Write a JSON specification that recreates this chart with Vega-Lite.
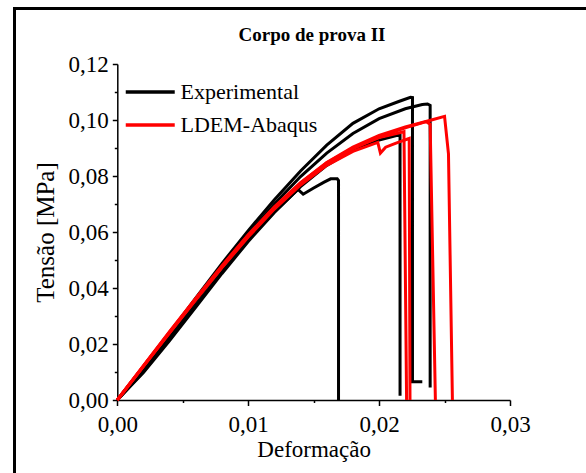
{
  "$schema": "https://vega.github.io/schema/vega-lite/v6.json",
  "autosize": {"type": "none"},
  "padding": {"left": 14, "top": 8, "right": 0, "bottom": 0},
  "width": 572,
  "height": 465,
  "background": "white",
  "config": {
    "view": {"stroke": null},
    "axis": {
      "grid": false,
      "domainColor": "black",
      "domainWidth": 1.5,
      "tickColor": "black",
      "tickWidth": 1.5,
      "labelFont": "Liberation Serif",
      "labelFontSize": 23,
      "labelColor": "black",
      "labelFlush": false,
      "labelOverlap": false,
      "labelBound": false,
      "titleFont": "Liberation Serif",
      "titleFontWeight": "normal",
      "titleColor": "black"
    }
  },
  "title": {
    "text": "Corpo de prova II",
    "font": "Liberation Serif",
    "fontSize": 19,
    "fontWeight": "bold",
    "color": "black",
    "anchor": "middle",
    "baseline": "alphabetic",
    "offset": -52,
    "dx": 12
  },
  "data": {
    "values": [
      {"s": "Experimental", "c": "E1", "i": 0, "x": 0, "y": 0},
      {"s": "Experimental", "c": "E1", "i": 1, "x": 0.002, "y": 0.0118},
      {"s": "Experimental", "c": "E1", "i": 2, "x": 0.004, "y": 0.0240},
      {"s": "Experimental", "c": "E1", "i": 3, "x": 0.006, "y": 0.0365},
      {"s": "Experimental", "c": "E1", "i": 4, "x": 0.008, "y": 0.0488},
      {"s": "Experimental", "c": "E1", "i": 5, "x": 0.010, "y": 0.0605},
      {"s": "Experimental", "c": "E1", "i": 6, "x": 0.012, "y": 0.0715},
      {"s": "Experimental", "c": "E1", "i": 7, "x": 0.014, "y": 0.0818},
      {"s": "Experimental", "c": "E1", "i": 8, "x": 0.016, "y": 0.0910},
      {"s": "Experimental", "c": "E1", "i": 9, "x": 0.018, "y": 0.0988},
      {"s": "Experimental", "c": "E1", "i": 10, "x": 0.020, "y": 0.1040},
      {"s": "Experimental", "c": "E1", "i": 11, "x": 0.0215, "y": 0.1066},
      {"s": "Experimental", "c": "E1", "i": 12, "x": 0.0224, "y": 0.1081},
      {"s": "Experimental", "c": "E1", "i": 13, "x": 0.02255, "y": 0.1080},
      {"s": "Experimental", "c": "E1", "i": 14, "x": 0.02255, "y": 0.0065},
      {"s": "Experimental", "c": "E1", "i": 15, "x": 0.0233, "y": 0.0065},

      {"s": "Experimental", "c": "E2", "i": 0, "x": 0, "y": 0},
      {"s": "Experimental", "c": "E2", "i": 1, "x": 0.002, "y": 0.0110},
      {"s": "Experimental", "c": "E2", "i": 2, "x": 0.004, "y": 0.0228},
      {"s": "Experimental", "c": "E2", "i": 3, "x": 0.006, "y": 0.0352},
      {"s": "Experimental", "c": "E2", "i": 4, "x": 0.008, "y": 0.0475},
      {"s": "Experimental", "c": "E2", "i": 5, "x": 0.010, "y": 0.0592},
      {"s": "Experimental", "c": "E2", "i": 6, "x": 0.012, "y": 0.0700},
      {"s": "Experimental", "c": "E2", "i": 7, "x": 0.014, "y": 0.0798},
      {"s": "Experimental", "c": "E2", "i": 8, "x": 0.016, "y": 0.0882},
      {"s": "Experimental", "c": "E2", "i": 9, "x": 0.018, "y": 0.0952},
      {"s": "Experimental", "c": "E2", "i": 10, "x": 0.020, "y": 0.1005},
      {"s": "Experimental", "c": "E2", "i": 11, "x": 0.022, "y": 0.1040},
      {"s": "Experimental", "c": "E2", "i": 12, "x": 0.0233, "y": 0.1055},
      {"s": "Experimental", "c": "E2", "i": 13, "x": 0.0237, "y": 0.1057},
      {"s": "Experimental", "c": "E2", "i": 14, "x": 0.0239, "y": 0.1052},
      {"s": "Experimental", "c": "E2", "i": 15, "x": 0.0239, "y": 0.0045},

      {"s": "Experimental", "c": "E3", "i": 0, "x": 0, "y": 0},
      {"s": "Experimental", "c": "E3", "i": 1, "x": 0.002, "y": 0.0098},
      {"s": "Experimental", "c": "E3", "i": 2, "x": 0.004, "y": 0.0212},
      {"s": "Experimental", "c": "E3", "i": 3, "x": 0.006, "y": 0.0332},
      {"s": "Experimental", "c": "E3", "i": 4, "x": 0.008, "y": 0.0452},
      {"s": "Experimental", "c": "E3", "i": 5, "x": 0.010, "y": 0.0566},
      {"s": "Experimental", "c": "E3", "i": 6, "x": 0.012, "y": 0.0670},
      {"s": "Experimental", "c": "E3", "i": 7, "x": 0.014, "y": 0.0762},
      {"s": "Experimental", "c": "E3", "i": 8, "x": 0.016, "y": 0.0838},
      {"s": "Experimental", "c": "E3", "i": 9, "x": 0.018, "y": 0.0893},
      {"s": "Experimental", "c": "E3", "i": 10, "x": 0.020, "y": 0.0928},
      {"s": "Experimental", "c": "E3", "i": 11, "x": 0.0214, "y": 0.0945},
      {"s": "Experimental", "c": "E3", "i": 12, "x": 0.0216, "y": 0.0945},
      {"s": "Experimental", "c": "E3", "i": 13, "x": 0.0216, "y": 0.0015},

      {"s": "Experimental", "c": "E4", "i": 0, "x": 0, "y": 0},
      {"s": "Experimental", "c": "E4", "i": 1, "x": 0.002, "y": 0.0102},
      {"s": "Experimental", "c": "E4", "i": 2, "x": 0.004, "y": 0.0218},
      {"s": "Experimental", "c": "E4", "i": 3, "x": 0.006, "y": 0.0338},
      {"s": "Experimental", "c": "E4", "i": 4, "x": 0.008, "y": 0.0458},
      {"s": "Experimental", "c": "E4", "i": 5, "x": 0.010, "y": 0.0572},
      {"s": "Experimental", "c": "E4", "i": 6, "x": 0.012, "y": 0.0672},
      {"s": "Experimental", "c": "E4", "i": 7, "x": 0.0138, "y": 0.0752},
      {"s": "Experimental", "c": "E4", "i": 8, "x": 0.0142, "y": 0.0735},
      {"s": "Experimental", "c": "E4", "i": 9, "x": 0.0150, "y": 0.0757},
      {"s": "Experimental", "c": "E4", "i": 10, "x": 0.0158, "y": 0.0778},
      {"s": "Experimental", "c": "E4", "i": 11, "x": 0.0163, "y": 0.0790},
      {"s": "Experimental", "c": "E4", "i": 12, "x": 0.0168, "y": 0.0790},
      {"s": "Experimental", "c": "E4", "i": 13, "x": 0.0169, "y": 0.0784},
      {"s": "Experimental", "c": "E4", "i": 14, "x": 0.0169, "y": 0},

      {"s": "LDEM-Abaqus", "c": "L1", "i": 0, "x": 0, "y": 0},
      {"s": "LDEM-Abaqus", "c": "L1", "i": 1, "x": 0.002, "y": 0.0122},
      {"s": "LDEM-Abaqus", "c": "L1", "i": 2, "x": 0.004, "y": 0.0243},
      {"s": "LDEM-Abaqus", "c": "L1", "i": 3, "x": 0.006, "y": 0.0362},
      {"s": "LDEM-Abaqus", "c": "L1", "i": 4, "x": 0.008, "y": 0.0478},
      {"s": "LDEM-Abaqus", "c": "L1", "i": 5, "x": 0.010, "y": 0.0588},
      {"s": "LDEM-Abaqus", "c": "L1", "i": 6, "x": 0.012, "y": 0.0688},
      {"s": "LDEM-Abaqus", "c": "L1", "i": 7, "x": 0.014, "y": 0.0775},
      {"s": "LDEM-Abaqus", "c": "L1", "i": 8, "x": 0.016, "y": 0.0848},
      {"s": "LDEM-Abaqus", "c": "L1", "i": 9, "x": 0.018, "y": 0.0903},
      {"s": "LDEM-Abaqus", "c": "L1", "i": 10, "x": 0.020, "y": 0.0945},
      {"s": "LDEM-Abaqus", "c": "L1", "i": 11, "x": 0.022, "y": 0.0975},
      {"s": "LDEM-Abaqus", "c": "L1", "i": 12, "x": 0.024, "y": 0.1000},
      {"s": "LDEM-Abaqus", "c": "L1", "i": 13, "x": 0.0250, "y": 0.1013},
      {"s": "LDEM-Abaqus", "c": "L1", "i": 14, "x": 0.0253, "y": 0.0879},
      {"s": "LDEM-Abaqus", "c": "L1", "i": 15, "x": 0.0256, "y": 0},

      {"s": "LDEM-Abaqus", "c": "L2", "i": 0, "x": 0, "y": 0},
      {"s": "LDEM-Abaqus", "c": "L2", "i": 1, "x": 0.002, "y": 0.0121},
      {"s": "LDEM-Abaqus", "c": "L2", "i": 2, "x": 0.004, "y": 0.0241},
      {"s": "LDEM-Abaqus", "c": "L2", "i": 3, "x": 0.006, "y": 0.0360},
      {"s": "LDEM-Abaqus", "c": "L2", "i": 4, "x": 0.008, "y": 0.0475},
      {"s": "LDEM-Abaqus", "c": "L2", "i": 5, "x": 0.010, "y": 0.0585},
      {"s": "LDEM-Abaqus", "c": "L2", "i": 6, "x": 0.012, "y": 0.0684},
      {"s": "LDEM-Abaqus", "c": "L2", "i": 7, "x": 0.014, "y": 0.0771},
      {"s": "LDEM-Abaqus", "c": "L2", "i": 8, "x": 0.016, "y": 0.0843},
      {"s": "LDEM-Abaqus", "c": "L2", "i": 9, "x": 0.018, "y": 0.0898},
      {"s": "LDEM-Abaqus", "c": "L2", "i": 10, "x": 0.020, "y": 0.0940},
      {"s": "LDEM-Abaqus", "c": "L2", "i": 11, "x": 0.022, "y": 0.0972},
      {"s": "LDEM-Abaqus", "c": "L2", "i": 12, "x": 0.0236, "y": 0.0994},
      {"s": "LDEM-Abaqus", "c": "L2", "i": 13, "x": 0.0239, "y": 0.0985},
      {"s": "LDEM-Abaqus", "c": "L2", "i": 14, "x": 0.0243, "y": 0},

      {"s": "LDEM-Abaqus", "c": "L3", "i": 0, "x": 0, "y": 0},
      {"s": "LDEM-Abaqus", "c": "L3", "i": 1, "x": 0.002, "y": 0.0123},
      {"s": "LDEM-Abaqus", "c": "L3", "i": 2, "x": 0.004, "y": 0.0245},
      {"s": "LDEM-Abaqus", "c": "L3", "i": 3, "x": 0.006, "y": 0.0364},
      {"s": "LDEM-Abaqus", "c": "L3", "i": 4, "x": 0.008, "y": 0.0480},
      {"s": "LDEM-Abaqus", "c": "L3", "i": 5, "x": 0.010, "y": 0.0590},
      {"s": "LDEM-Abaqus", "c": "L3", "i": 6, "x": 0.012, "y": 0.0690},
      {"s": "LDEM-Abaqus", "c": "L3", "i": 7, "x": 0.014, "y": 0.0776},
      {"s": "LDEM-Abaqus", "c": "L3", "i": 8, "x": 0.016, "y": 0.0847},
      {"s": "LDEM-Abaqus", "c": "L3", "i": 9, "x": 0.018, "y": 0.0900},
      {"s": "LDEM-Abaqus", "c": "L3", "i": 10, "x": 0.020, "y": 0.0937},
      {"s": "LDEM-Abaqus", "c": "L3", "i": 11, "x": 0.0219, "y": 0.0958},
      {"s": "LDEM-Abaqus", "c": "L3", "i": 12, "x": 0.0221, "y": 0},

      {"s": "LDEM-Abaqus", "c": "L4", "i": 0, "x": 0, "y": 0},
      {"s": "LDEM-Abaqus", "c": "L4", "i": 1, "x": 0.002, "y": 0.0120},
      {"s": "LDEM-Abaqus", "c": "L4", "i": 2, "x": 0.004, "y": 0.0240},
      {"s": "LDEM-Abaqus", "c": "L4", "i": 3, "x": 0.006, "y": 0.0358},
      {"s": "LDEM-Abaqus", "c": "L4", "i": 4, "x": 0.008, "y": 0.0473},
      {"s": "LDEM-Abaqus", "c": "L4", "i": 5, "x": 0.010, "y": 0.0582},
      {"s": "LDEM-Abaqus", "c": "L4", "i": 6, "x": 0.012, "y": 0.0682},
      {"s": "LDEM-Abaqus", "c": "L4", "i": 7, "x": 0.014, "y": 0.0768},
      {"s": "LDEM-Abaqus", "c": "L4", "i": 8, "x": 0.016, "y": 0.0838},
      {"s": "LDEM-Abaqus", "c": "L4", "i": 9, "x": 0.018, "y": 0.0888},
      {"s": "LDEM-Abaqus", "c": "L4", "i": 10, "x": 0.0199, "y": 0.0920},
      {"s": "LDEM-Abaqus", "c": "L4", "i": 11, "x": 0.0201, "y": 0.0882},
      {"s": "LDEM-Abaqus", "c": "L4", "i": 12, "x": 0.0205, "y": 0.0903},
      {"s": "LDEM-Abaqus", "c": "L4", "i": 13, "x": 0.0210, "y": 0.0912},
      {"s": "LDEM-Abaqus", "c": "L4", "i": 14, "x": 0.0215, "y": 0.0921},
      {"s": "LDEM-Abaqus", "c": "L4", "i": 15, "x": 0.0223, "y": 0.0934},
      {"s": "LDEM-Abaqus", "c": "L4", "i": 16, "x": 0.02236, "y": 0}
    ]
  },
  "layer": [
    {
      "mark": {"type": "line", "opacity": 0},
      "encoding": {
        "x": {
          "field": "x",
          "type": "quantitative",
          "scale": {"domain": [0, 0.03], "range": [0, 572], "nice": false, "zero": false},
          "axis": {"orient": "top", "title": null, "labels": false, "ticks": false, "domainWidth": 3, "domainCap": "square", "offset": 0}
        },
        "y": {
          "field": "y",
          "type": "quantitative",
          "scale": {"domain": [0, 0.12], "range": [465, 0], "nice": false, "zero": false},
          "axis": {"orient": "left", "title": null, "labels": false, "ticks": false, "domainWidth": 3, "domainCap": "square", "offset": 0}
        },
        "detail": {"field": "c"}
      }
    },
    {
      "mark": {"type": "line", "strokeWidth": 3, "strokeJoin": "miter", "clip": false},
      "encoding": {
        "x": {
          "field": "x",
          "type": "quantitative",
          "scale": {"domain": [0, 0.03], "range": [103.3, 496], "nice": false, "zero": false},
          "axis": {
            "orient": "bottom",
            "title": "Deformação",
            "titleFontSize": 23,
            "titlePadding": 2,
            "offset": -73,
            "values": [0, 0.005, 0.01, 0.015, 0.02, 0.025, 0.03],
            "tickSize": {"condition": {"test": "round(datum.value*200) % 2 === 1", "value": 2.5}, "value": 5.5},
            "labelPadding": 8,
            "labelExpr": "round(datum.value*200) % 2 === 1 ? '' : replace(format(datum.value, '.2f'), '.', ',')"
          }
        },
        "y": {
          "field": "y",
          "type": "quantitative",
          "scale": {"domain": [0, 0.12], "range": [392, 56], "nice": false, "zero": false},
          "axis": {
            "orient": "left",
            "title": "Tensão [MPa]",
            "titleFontSize": 25,
            "titlePadding": 10,
            "offset": -103.3,
            "values": [0, 0.01, 0.02, 0.03, 0.04, 0.05, 0.06, 0.07, 0.08, 0.09, 0.1, 0.11, 0.12],
            "tickSize": {"condition": {"test": "round(datum.value*100) % 2 === 1", "value": 3}, "value": 5},
            "labelPadding": 4,
            "labelExpr": "round(datum.value*100) % 2 === 1 ? '' : replace(format(datum.value, '.2f'), '.', ',')"
          }
        },
        "color": {
          "field": "s",
          "type": "nominal",
          "scale": {"domain": ["Experimental", "LDEM-Abaqus"], "range": ["#000000", "#ff0000"]},
          "legend": {
            "title": null,
            "orient": "none",
            "legendX": 110,
            "legendY": 70,
            "padding": 0,
            "symbolType": "M-1,0H3",
            "symbolSize": 600,
            "symbolStrokeWidth": 3.3,
            "labelFont": "Liberation Serif",
            "labelFontSize": 22,
            "labelColor": "black",
            "labelOffset": 28.5,
            "rowPadding": 8
          }
        },
        "detail": {"field": "c"},
        "order": {"field": "i", "type": "quantitative"}
      }
    }
  ],
  "resolve": {"scale": {"x": "independent", "y": "independent"}, "axis": {"x": "independent", "y": "independent"}}
}
